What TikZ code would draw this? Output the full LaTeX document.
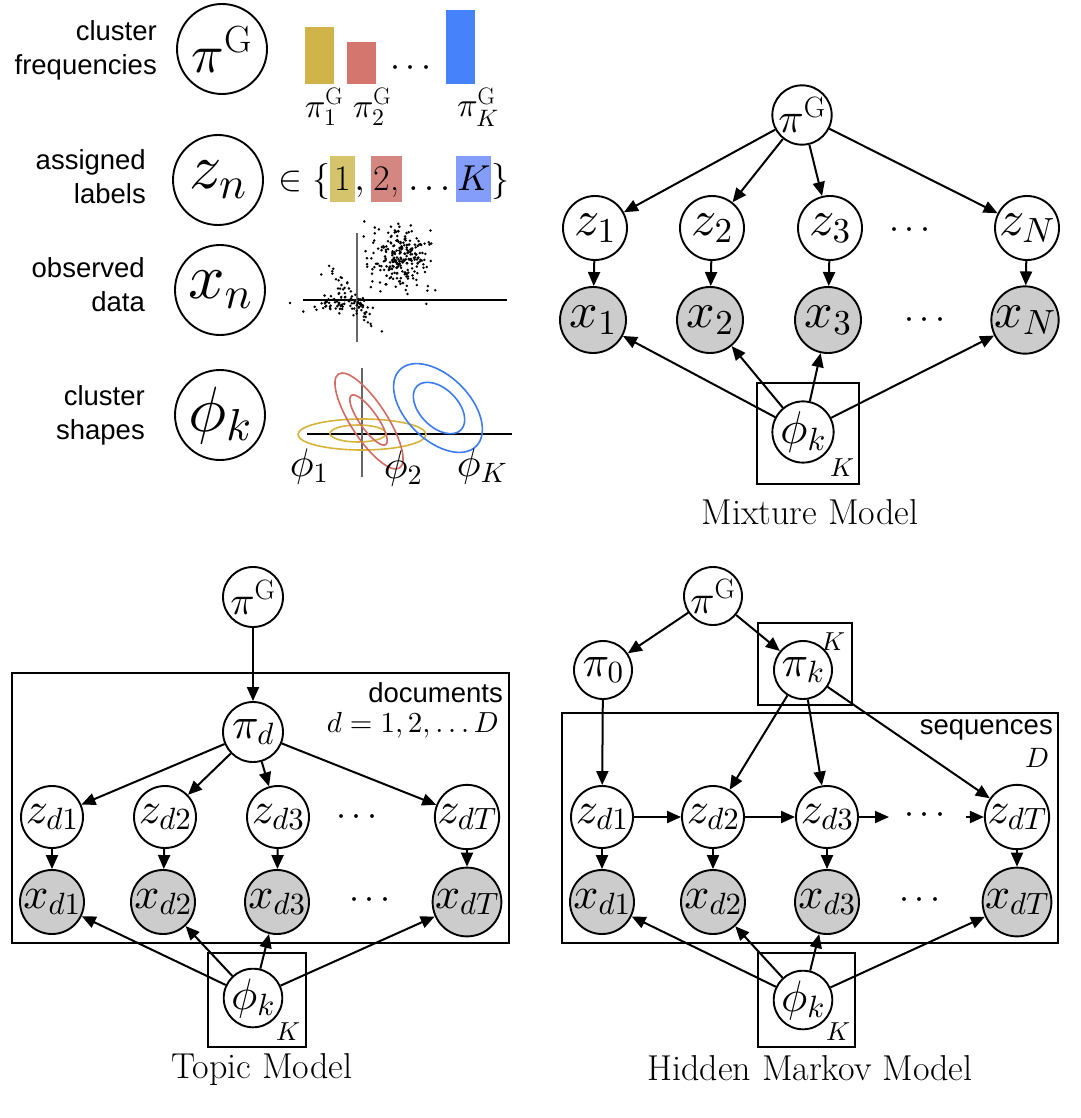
\documentclass[tikz,border=0pt]{standalone}
\usepackage{fontspec}
\newfontfamily\sansfont{Liberation Sans}
\usetikzlibrary{arrows.meta}
% scalable Computer Modern math at every size
\DeclareFontFamily{OT1}{cmr}{\hyphenchar\font45 }
\DeclareFontShape{OT1}{cmr}{m}{n}{<-> cmr10}{}
\DeclareFontShape{OT1}{cmr}{m}{it}{<-> cmti10}{}
\DeclareFontShape{OT1}{cmr}{bx}{n}{<-> cmbx10}{}
\DeclareFontFamily{OML}{cmm}{\skewchar\font127 }
\DeclareFontShape{OML}{cmm}{m}{it}{<-> cmmi10}{}
\DeclareFontFamily{OMS}{cmsy}{\skewchar\font48 }
\DeclareFontShape{OMS}{cmsy}{m}{n}{<-> cmsy10}{}
\DeclareFontFamily{OMX}{cmex}{}
\DeclareFontShape{OMX}{cmex}{m}{n}{<-> cmex10}{}
\setlength{\fboxsep}{0pt}
\newcommand\fs[1]{\fontsize{#1}{#1}\selectfont}
\newcommand\hlb[4]{\colorbox{#1}{\rule[-12pt]{0pt}{46pt}\hspace{#2}#4\hspace{#3}}}
\definecolor{barY}{HTML}{D0B44A}
\definecolor{barR}{HTML}{D4766E}
\definecolor{barB}{HTML}{4682FA}
\definecolor{hlY}{HTML}{D6C46C}
\definecolor{hlR}{HTML}{D48680}
\definecolor{hlB}{HTML}{849CFA}
\definecolor{elY}{HTML}{D4B43C}
\definecolor{elR}{HTML}{D46A62}
\definecolor{elB}{HTML}{3C7CF0}
\definecolor{obsfill}{HTML}{CCCCCC}
\tikzset{
  rv/.style={circle, draw, line width=1.9pt, fill=white, inner sep=0pt, minimum size=#1},
  obs/.style={rv=#1, fill=obsfill},
  lv/.style={circle, draw, line width=1.9pt, inner sep=0pt, minimum size=90pt},
  arr/.style={-{Triangle[length=14pt,width=12pt]}, line width=2pt},
  plate/.style={draw, line width=1.9pt},
  slabel/.style={font=\sansfont\fontsize{27.5}{34}\selectfont, align=right, inner sep=0pt},
  caption/.style={font=\fs{36}, inner sep=0pt},
  platelab/.style={font=\fs{26}, inner sep=0pt},
  dotsn/.style={font=\fs{36}, inner sep=0pt},
  barlab/.style={font=\fs{34}, inner sep=0pt},
  ell/.style={line width=1.6pt}
}
\begin{document}
\begin{tikzpicture}[x=1pt,y=1pt]
\useasboundingbox (0,0) rectangle (1080,-1118);

% ---------------- legend ----------------
\node[slabel, anchor=east] (tfreq) at (157,-50) {cluster\\frequencies};
\node[slabel, anchor=east] (tlab) at (146,-177) {assigned\\labels};
\node[slabel, anchor=east] (tobs) at (145,-285) {observed\\data};
\node[slabel, anchor=east] (tshp) at (145,-415) {cluster\\shapes};

\node[lv, font=\fs{54}] (lpi) at (222,-49) {$\pi^{\mathrm{G}}$};
\node[lv, font=\fs{64}] (lz) at (218,-180) {$z_n$};
\node[lv, font=\fs{64}] (lx) at (220,-290) {$x_n$};
\node[lv, font=\fs{64}] (lphi) at (220,-415) {$\phi_k$};

% cluster frequency bars
\fill[barY] (305,-27) rectangle (334,-84);
\fill[barR] (347,-42) rectangle (376,-84);
\fill[barB] (446,-10) rectangle (475,-84);
\node[dotsn] (bdots) at (411,-69) {$\cdots$};
\node[barlab] (bl1) at (324,-107) {$\pi^{\mathrm{G}}_1$};
\node[barlab] (bl2) at (372,-107) {$\pi^{\mathrm{G}}_2$};
\node[barlab] (blK) at (478,-107) {$\pi^{\mathrm{G}}_K$};

% label set
\node[anchor=base west, font=\fs{36}, inner sep=0pt] (lset) at (278,-190)
  {$\in\bigl\{\hlb{hlY}{4pt}{4pt}{1},\hlb{hlR}{3pt}{3pt}{2,}\ldots\hlb{hlB}{1pt}{1pt}{$K$}\bigr\}$};

% observed data scatter
\draw[line width=1.2pt] (303,-300) -- (507,-300);
\draw[line width=1.5pt, black!60] (357,-233) -- (357,-342);
\pgfmathsetseed{1234}
\foreach \i in {1,...,240}{
  \pgfmathsetmacro\ux{rand+rand+rand}
  \pgfmathsetmacro\uy{rand+rand+rand}
  \fill ({400+15*\ux},{-258-16*\uy}) circle (1.4pt);
}
\foreach \i in {1,...,55}{
  \pgfmathsetmacro\ua{rand+rand+rand}
  \pgfmathsetmacro\ub{rand+rand+rand}
  \fill ({352+12*\ua+3.2*\ub},{-(300+16*\ua-2.4*\ub)}) circle (1.4pt);
}
\foreach \i in {1,...,55}{
  \pgfmathsetmacro\ua{rand+rand+rand}
  \pgfmathsetmacro\ub{rand+rand+rand}
  \fill ({340+16*\ua},{-303-4*\ub}) circle (1.4pt);
}
\fill (290,-303) circle (1.4pt);

% cluster shapes
\draw[line width=1.2pt] (307,-434) -- (512,-434);
\draw[line width=1.5pt, black!60] (362,-368) -- (362,-477);
\draw[ell, elY] (362,-434.5) ellipse [x radius=64, y radius=15.5];
\draw[ell, elY] (358,-433.5) ellipse [x radius=28, y radius=8.5];
\draw[ell, elR, rotate around={-57:(369,-421)}] (369,-421) ellipse [x radius=56, y radius=18];
\draw[ell, elR, rotate around={-55:(368.5,-420)}] (368.5,-420) ellipse [x radius=30, y radius=9];
\draw[ell, elB, rotate around={-45:(438,-408)}] (438,-408) ellipse [x radius=54, y radius=32];
\draw[ell, elB, rotate around={-45:(439,-408)}] (439,-408) ellipse [x radius=31, y radius=19];
\node[font=\fs{40}] (ph1) at (309,-466) {$\phi_1$};
\node[font=\fs{40}] (ph2) at (403,-468) {$\phi_2$};
\node[font=\fs{40}] (phK) at (482,-466) {$\phi_K$};

% ---------------- mixture model ----------------
\draw[plate] (757,-383) rectangle (859,-484);
\node[platelab] (mK) at (842,-468) {$K$};
\node[rv=56pt, font=\fs{42}] (mpi) at (802,-115) {$\pi^{\mathrm{G}}$};
\node[rv=64pt, font=\fs{50}] (mz1) at (595,-228) {$z_1$};
\node[rv=64pt, font=\fs{50}] (mz2) at (712,-228) {$z_2$};
\node[rv=64pt, font=\fs{50}] (mz3) at (830,-228) {$z_3$};
\node[dotsn] (mzd) at (910,-230) {$\cdots$};
\node[rv=64pt, font=\fs{50}] (mzN) at (1027,-228) {$z_N$};
\node[obs=66pt, font=\fs{50}] (mx1) at (593,-320) {$x_1$};
\node[obs=66pt, font=\fs{50}] (mx2) at (710,-320) {$x_2$};
\node[obs=66pt, font=\fs{50}] (mx3) at (828,-320) {$x_3$};
\node[dotsn] (mxd) at (925,-320) {$\cdots$};
\node[obs=66pt, font=\fs{50}] (mxN) at (1025,-320) {$x_N$};
\node[rv=60pt, font=\fs{46}] (mphi) at (803,-432) {$\phi_k$};
\node[caption] (mcap) at (810,-512) {Mixture Model};
\foreach \k in {1,2,3,N}{
  \draw[arr] (mpi) -- (mz\k);
  \draw[arr] (mz\k) -- (mx\k);
  \draw[arr] (mphi) -- (mx\k);
}

% ---------------- topic model ----------------
\draw[plate] (12,-673) rectangle (509,-943);
\node[slabel, anchor=east] (tdoc) at (503,-693) {documents};
\node[font=\fs{29}, inner sep=0pt, anchor=east] (tdD) at (499,-725) {$d=1,2,\ldots D$};
\node[rv=60pt, font=\fs{40}] (tpi) at (253,-597) {$\pi^{\mathrm{G}}$};
\node[rv=60pt, font=\fs{44}] (tpd) at (253,-732) {$\pi_d$};
\node[rv=62pt, font=\fs{44}] (tz1) at (52,-817) {$z_{d1}$};
\node[rv=62pt, font=\fs{44}] (tz2) at (165,-817) {$z_{d2}$};
\node[rv=62pt, font=\fs{44}] (tz3) at (278,-817) {$z_{d3}$};
\node[dotsn] (tzd) at (357,-817) {$\cdots$};
\node[rv=62pt, font=\fs{44}] (tzT) at (467,-817) {$z_{dT}$};
\node[obs=64pt, font=\fs{44}] (tx1) at (52,-902) {$x_{d1}$};
\node[obs=64pt, font=\fs{44}] (tx2) at (163,-902) {$x_{d2}$};
\node[obs=64pt, font=\fs{44}] (tx3) at (277,-902) {$x_{d3}$};
\node[dotsn] (txd) at (370,-900) {$\cdots$};
\node[obs=64pt, font=\fs{44}] (txT) at (467,-902) {$x_{dT}$};
\draw[plate] (208,-953) rectangle (306,-1047);
\node[platelab] (tK) at (288,-1032) {$K$};
\node[rv=58pt, font=\fs{44}] (tphi) at (253,-998) {$\phi_k$};
\node[caption] (tcap) at (262,-1070) {Topic Model};
\draw[arr] (tpi) -- (tpd);
\foreach \k in {1,2,3,T}{
  \draw[arr] (tpd) -- (tz\k);
  \draw[arr] (tz\k) -- (tx\k);
  \draw[arr] (tphi) -- (tx\k);
}

% ---------------- hidden Markov model ----------------
\draw[plate] (758,-623) rectangle (852,-705);
\node[platelab] (hKk) at (833,-642) {$K$};
\draw[plate] (562,-713) rectangle (1058,-943);
\node[slabel, anchor=east] (hseq) at (1053,-730) {sequences};
\node[platelab, font=\fs{28}] (hD) at (1037,-758) {$D$};
\node[rv=58pt, font=\fs{40}] (hpi) at (713,-596) {$\pi^{\mathrm{G}}$};
\node[rv=58pt, font=\fs{44}] (hp0) at (603,-670) {$\pi_0$};
\node[rv=58pt, font=\fs{44}] (hpk) at (803,-670) {$\pi_k$};
\node[rv=62pt, font=\fs{44}] (hz1) at (602,-817) {$z_{d1}$};
\node[rv=62pt, font=\fs{44}] (hz2) at (713,-817) {$z_{d2}$};
\node[rv=62pt, font=\fs{44}] (hz3) at (827,-817) {$z_{d3}$};
\node[dotsn] (hzd) at (925,-815) {$\cdots$};
\node[rv=62pt, font=\fs{44}] (hzT) at (1017,-817) {$z_{dT}$};
\node[obs=64pt, font=\fs{44}] (hx1) at (602,-902) {$x_{d1}$};
\node[obs=64pt, font=\fs{44}] (hx2) at (713,-902) {$x_{d2}$};
\node[obs=64pt, font=\fs{44}] (hx3) at (827,-902) {$x_{d3}$};
\node[dotsn] (hxd) at (920,-900) {$\cdots$};
\node[obs=64pt, font=\fs{44}] (hxT) at (1017,-902) {$x_{dT}$};
\coordinate (hc1) at (889,-817);
\coordinate (hc2) at (966,-817);
\draw[plate] (758,-953) rectangle (855,-1047);
\node[platelab] (hK) at (838,-1032) {$K$};
\node[rv=58pt, font=\fs{44}] (hphi) at (803,-1000) {$\phi_k$};
\node[caption] (hcap) at (810,-1068) {Hidden Markov Model};
\draw[arr] (hpi) -- (hp0);
\draw[arr] (hpi) -- (hpk);
\draw[arr] (hp0) -- (hz1);
\draw[arr] (hpk) -- (hz2);
\draw[arr] (hpk) -- (hz3);
\draw[arr] (hpk) -- (hzT);
\draw[arr] (hz1) -- (hz2);
\draw[arr] (hz2) -- (hz3);
\draw[arr] (hz3) -- (hc1);
\draw[arr] (hc2) -- (hzT);
\foreach \k in {1,2,3,T}{
  \draw[arr] (hz\k) -- (hx\k);
  \draw[arr] (hphi) -- (hx\k);
}
\end{tikzpicture}
\end{document}
